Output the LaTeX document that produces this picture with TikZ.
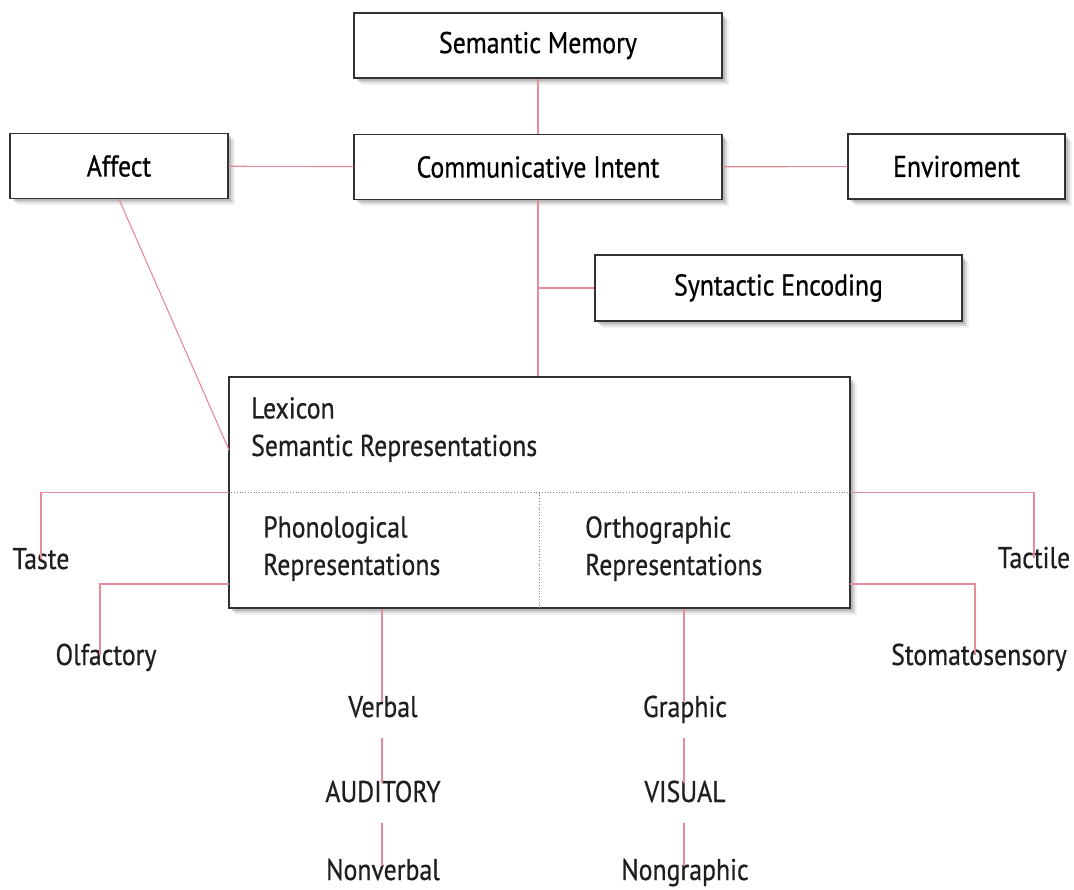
\documentclass[tikz,border=0pt]{standalone}
\usepackage{fontspec}
\setmainfont{PT Sans}[FakeStretch=0.86, FakeBold=0.6]
\usetikzlibrary{shadows}
\definecolor{linkpink}{RGB}{228,140,152}
\definecolor{boxgray}{RGB}{50,50,50}
\newcommand{\fs}{\fontsize{30}{37.5}\selectfont}

\begin{document}
\begin{tikzpicture}[x=1pt, y=-1pt,
        box/.style={rectangle, draw=boxgray, line width=1.3pt, fill=white,
                    drop shadow={shadow xshift=7pt, shadow yshift=-7pt, opacity=0.12},
                    drop shadow={shadow xshift=5pt, shadow yshift=-5pt, opacity=0.22},
                    drop shadow={shadow xshift=3pt, shadow yshift=-3pt, opacity=0.35},
                    align=center, inner sep=0pt, minimum height=65pt, font=\fs},
        inner/.style={font=\fs, text=black!88, inner sep=0pt, anchor=north west, align=left},
        link/.style={draw=linkpink, line width=1.1pt},
        lab/.style={font=\fs, text=black!88, inner sep=3pt, anchor=base,
                    text height=0.72em, text depth=0pt},
        sep/.style={draw=gray, dotted, line width=0.8pt},
        gap/.style={link, shorten <=17.5pt, shorten >=8.5pt}]
      \useasboundingbox (0,0) rectangle (1074,890);
      % boxes
      \node[box, minimum width=368pt] (sm) at (538,45.5) {Semantic Memory};
      \node[box, minimum width=368pt] (ci) at (538,167) {Communicative Intent};
      \node[box, minimum width=218pt] (af) at (119,166) {Affect};
      \node[box, minimum width=217pt] (env) at (956.5,166.5) {Enviroment};
      \node[box, minimum width=367pt, minimum height=66pt] (se) at (778.5,288) {Syntactic Encoding};
      \node[box, minimum width=621pt, minimum height=231pt] (lex) at (539.5,492.5) {};
      \draw[sep] (lex.west) -- (lex.east);
      \draw[sep] (lex.center) -- (lex.south);
      \node[inner] (sem) at (251,397) {Lexicon\\Semantic Representations};
      \node[inner] (pho) at (263,516) {Phonological\\Representations};
      \node[inner] (ort) at (585,516) {Orthographic\\Representations};
      % senses
      \node[lab] (taste) at (41,569) {Taste};
      \node[lab] (olf) at (106,665) {Olfactory};
      \node[lab] (tac) at (1034,568) {Tactile};
      \node[lab] (sto) at (979,665) {Stomatosensory};
      \node[lab] (verb) at (383,717) {Verbal};
      \node[lab] (aud) at (383,802) {AUDITORY};
      \node[lab] (nverb) at (383,880) {Nonverbal};
      \node[lab] (graph) at (685,717) {Graphic};
      \node[lab] (vis) at (685,802) {VISUAL};
      \node[lab] (ngraph) at (685,880) {Nongraphic};
      \coordinate (afin) at (229,450);
      \coordinate (olfin) at (229,584);
      \coordinate (stoin) at (850,584);
      % connectors
      \draw[link] (sm) -- (ci);
      \draw[link] (af) -- (ci);
      \draw[link] (ci) -- (env);
      \draw[link] (ci.south) -- (ci.south |- lex.north);
      \draw[link] (se.west) -- (se.west -| ci.south);
      \draw[link] (af.south) -- (afin);
      \draw[link] (lex.west) -| (taste.north);
      \draw[link] (olfin) -| ([xshift=-6pt]olf.north);
      \draw[link] (lex.east) -| (tac.north);
      \draw[link] (stoin) -| ([xshift=-4pt]sto.north);
      \draw[link, shorten >=5pt] ([xshift=-1pt]verb.north |- lex.south) -- ([xshift=-1pt]verb.north);
      \draw[link, shorten >=5pt] ([xshift=-1pt]graph.north |- lex.south) -- ([xshift=-1pt]graph.north);
      \draw[gap] ([xshift=-1pt]verb.south) -- ([xshift=-1pt]aud.north);
      \draw[gap, shorten >=4pt] ([xshift=-1pt]aud.south) -- ([xshift=-1pt]nverb.north);
      \draw[gap] ([xshift=-1pt]graph.south) -- ([xshift=-1pt]vis.north);
      \draw[gap, shorten >=4pt] ([xshift=-1pt]vis.south) -- ([xshift=-1pt]ngraph.north);
    \end{tikzpicture}
\end{document}
